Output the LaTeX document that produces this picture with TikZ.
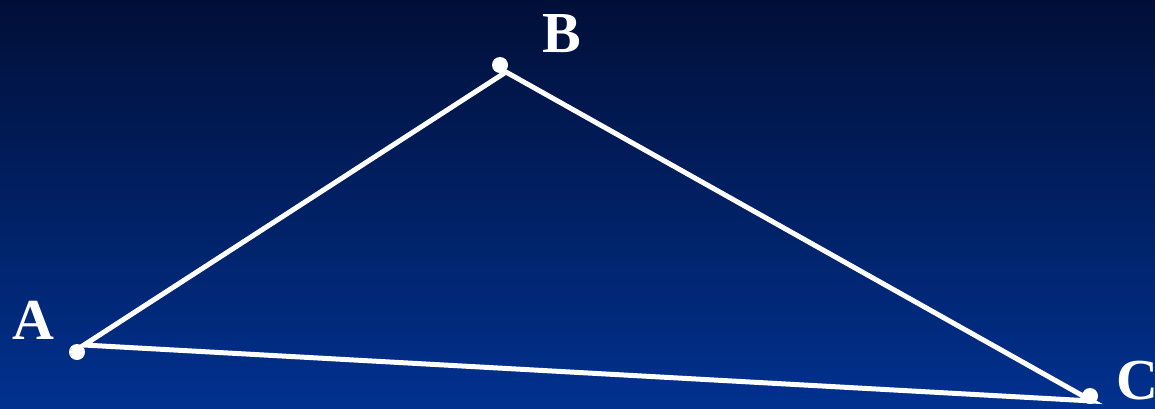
\documentclass[tikz,border=0pt]{standalone}
\usepackage{fontspec}
\setmainfont{Liberation Serif}
\begin{document}
\begin{tikzpicture}[x=1pt,y=-1pt,
  dotnode/.style={circle,fill=white,inner sep=0pt,minimum size=16pt},
  lbl/.style={text=white,font=\fontsize{58}{58}\selectfont\bfseries,inner sep=0pt},
  edge/.style={white,line width=5pt,line join=miter}]
\definecolor{topblue}{HTML}{010F38}
\definecolor{botblue}{HTML}{01318F}
\shade[top color=topblue,bottom color=botblue] (0,0) rectangle (1155,408);
\useasboundingbox (0,0) rectangle (1155,408);
\coordinate (va) at (84,345);
\coordinate (vb) at (506,72);
\coordinate (vc) at (1092,401);
\draw[edge] (va) -- (vb) -- (vc) -- cycle;
\node[dotnode] (da) at (77,352) {};
\node[dotnode] (db) at (500,65) {};
\node[dotnode] (dc) at (1090,396) {};
\node[lbl] (la) at (33,320) {A};
\node[lbl] (lb) at (562,34) {B};
\node[lbl,anchor=west] (lc) at (1116,381) {C};
\end{tikzpicture}
\end{document}
